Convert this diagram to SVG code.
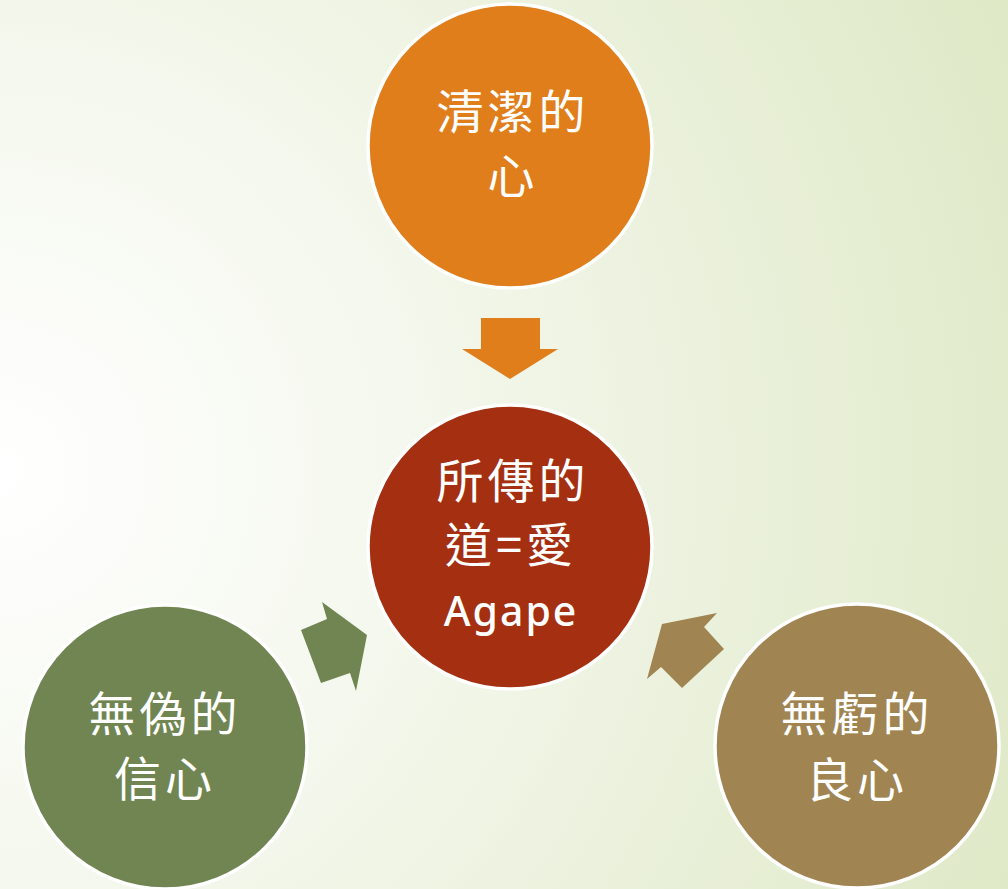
<svg xmlns="http://www.w3.org/2000/svg" width="1008" height="889" viewBox="0 0 1008 889">
  <defs>
    <radialGradient id="bg" gradientUnits="userSpaceOnUse" cx="0" cy="470" r="1150">
      <stop offset="0" stop-color="#FFFFFF"/>
      <stop offset="0.35" stop-color="#F5F8EE"/>
      <stop offset="1" stop-color="#DDE8C4"/>
    </radialGradient>
    <style>
      .node circle { stroke: #FFFFFF; stroke-width: 3.5; }
      .cjk { font-family: "Noto Sans CJK TC", "Noto Sans CJK SC", sans-serif; font-size: 47px; fill: #FFFFFF; text-anchor: middle; letter-spacing: 4px; }
      .lat { font-family: "Noto Sans", "Liberation Sans", sans-serif; font-size: 41px; font-weight: 500; fill: #FFFFFF; text-anchor: middle; letter-spacing: 2px; }
    </style>
  </defs>
  <rect width="1008" height="889" fill="url(#bg)"/>

  <g id="connectors">
    <polygon points="481,318 540,318 540,349 558,349 510,379 462,349 481,349" fill="#DF7E1A"/>
    <polygon points="301,630 327,619 322,602 367,635 356,691 350,673 321,683" fill="#718552"/>
    <polygon points="662,624 717,613 704,627 724,649 682,688 661,667 647,679" fill="#A08552"/>
  </g>

  <g id="node-top" class="node">
    <circle cx="510" cy="146" r="142" fill="#DF7E1A"/>
    <text class="cjk" x="513" y="129">清潔的</text>
    <text class="cjk" x="513" y="193">心</text>
  </g>

  <g id="node-center" class="node">
    <circle cx="510" cy="547" r="142" fill="#A52F11"/>
    <text class="cjk" x="513" y="498">所傳的</text>
    <text class="cjk" x="511" y="562">道=愛</text>
    <text class="lat" x="511" y="626">Agape</text>
  </g>

  <g id="node-left" class="node">
    <circle cx="165" cy="747" r="142" fill="#718552"/>
    <text class="cjk" x="165" y="731">無偽的</text>
    <text class="cjk" x="165" y="796">信心</text>
  </g>

  <g id="node-right" class="node">
    <circle cx="857" cy="746" r="142" fill="#A08552"/>
    <text class="cjk" x="857" y="731">無虧的</text>
    <text class="cjk" x="857" y="797">良心</text>
  </g>
</svg>
